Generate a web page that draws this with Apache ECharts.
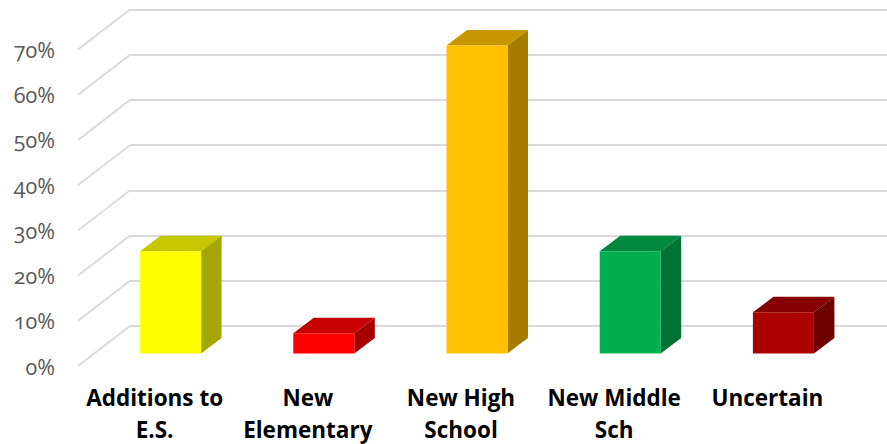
<!DOCTYPE html>
<html>
<head>
<meta charset="utf-8">
<style>
  html, body { margin: 0; padding: 0; background: #fff; }
  #chart { width: 887px; height: 444px; }
  #chart text { font-variant-numeric: oldstyle-nums; font-feature-settings: "onum" 1; }
</style>
<script src="https://cdn.jsdelivr.net/npm/echarts@6/dist/echarts.min.js"></script>
</head>
<body>
<div id="chart"></div>
<script>
const categories = ['Additions to\nE.S.', 'New\nElementary', 'New High\nSchool', 'New Middle\nSch', 'Uncertain'];
const shares = [22.6, 4.5, 68.1, 22.6, 9.1];
const barColors = ['#FFFF00', '#FF0000', '#FFC000', '#00B050', '#AB0000'];
const percentTicks = [0, 10, 20, 30, 40, 50, 60, 70];

// Oblique projection of the plot: wall sits behind and to the right of the floor's front edge.
const FLOOR_DX = -52, FLOOR_DY = 40;
const FRONT_DX = -36, FRONT_DY = 27.5;
const DEPTH_DX = 20.5, DEPTH_DY = -15.5;
const BAR_WIDTH = 61;

function shade(hex, f) {
  const n = parseInt(hex.slice(1), 16);
  const c = s => Math.round(((n >> s) & 255) * f);
  return `rgb(${c(16)},${c(8)},${c(0)})`;
}

function renderFloorEdge(params, api) {
  const p = api.coord([0, api.value(1)]);
  const x = p[0] - api.size([1, 0])[0] / 2;
  return {
    type: 'line',
    shape: { x1: x, y1: p[1], x2: x + FLOOR_DX, y2: p[1] + FLOOR_DY },
    style: { stroke: '#d9d9d9', lineWidth: 1.8 }
  };
}

function renderBar(params, api) {
  const top = api.coord([api.value(0), api.value(1)]);
  const base = api.coord([api.value(0), 0]);
  const color = barColors[params.dataIndex];
  const l = top[0] + FRONT_DX - BAR_WIDTH / 2, r = l + BAR_WIDTH;
  const t = top[1] + FRONT_DY, b = base[1] + FRONT_DY;
  const poly = (points, fill) => ({
    type: 'polygon', shape: { points }, style: { fill }
  });
  return {
    type: 'group',
    children: [
      poly([[l, t], [r, t], [r + DEPTH_DX, t + DEPTH_DY], [l + DEPTH_DX, t + DEPTH_DY]], shade(color, 0.78)),
      poly([[r, t], [r + DEPTH_DX, t + DEPTH_DY], [r + DEPTH_DX, b + DEPTH_DY], [r, b]], shade(color, 0.65)),
      { type: 'rect', shape: { x: l, y: t, width: BAR_WIDTH, height: b - t }, style: { fill: color } }
    ]
  };
}

const chart = echarts.init(document.getElementById('chart'), null, { renderer: 'svg' });
chart.setOption({
  animation: false,
  backgroundColor: '#fff',
  grid: [
    { left: 130, top: 9.5, width: 766, height: 316.5, outerBoundsMode: 'none' },
    { left: 78, top: 49.5, width: 766, height: 316.5, outerBoundsMode: 'none' }
  ],
  xAxis: [
    { gridIndex: 0, type: 'category', data: categories, axisLine: { show: false }, axisTick: { show: false }, axisLabel: { show: false } },
    {
      gridIndex: 1, type: 'category', data: categories,
      axisLine: { show: false }, axisTick: { show: false },
      axisLabel: {
        interval: 0, margin: 15, color: '#000',
        fontFamily: 'Open Sans', fontWeight: 'bold', fontSize: 22.5, lineHeight: 32.5
      }
    }
  ],
  yAxis: [
    {
      gridIndex: 0, type: 'value', min: 0, max: 70, interval: 10,
      axisLine: { show: false }, axisTick: { show: false }, axisLabel: { show: false },
      splitLine: { show: true, lineStyle: { color: '#d9d9d9', width: 2 } }
    },
    {
      gridIndex: 1, type: 'value', min: 0, max: 70, interval: 10,
      axisLine: { show: false }, axisTick: { show: false }, splitLine: { show: false },
      axisLabel: { margin: 23, color: '#595959', fontFamily: 'Open Sans', fontSize: 21.5, formatter: '{value}%' }
    }
  ],
  series: [
    {
      type: 'custom', xAxisIndex: 0, yAxisIndex: 0, clip: false, silent: true,
      data: percentTicks.map(v => [0, v]), renderItem: renderFloorEdge, z: 1
    },
    {
      type: 'custom', xAxisIndex: 0, yAxisIndex: 0, clip: false, silent: true,
      data: shares.map((v, i) => [i, v]), renderItem: renderBar, z: 2
    }
  ]
});
</script>
</body>
</html>
